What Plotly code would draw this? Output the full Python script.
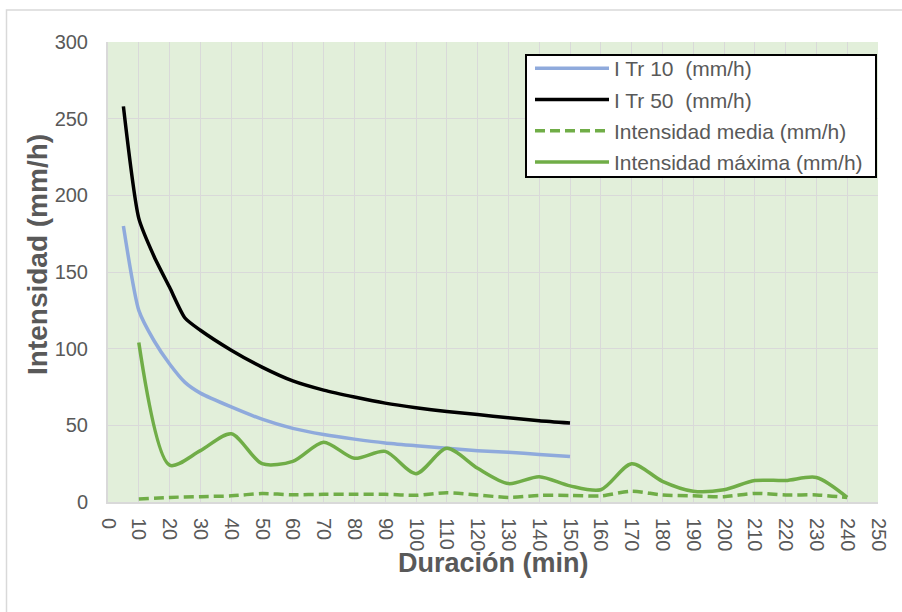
import plotly.graph_objects as go

# IDF curves (mm/h) vs duration (min)
dur_idf = [5, 10, 15, 20, 25, 30, 40, 50, 60, 70, 80, 90, 100, 110, 120, 130, 140, 150]
i_tr10 = [180, 125, 105, 90, 78, 71, 62, 54, 48, 44, 41, 38.5, 36.7, 35, 33.5, 32.5, 31, 29.7]
i_tr50 = [258, 185, 160, 140, 120, 112, 99, 88, 79, 73, 68.5, 64.5, 61.5, 59, 57, 55, 53, 51.5]

# Observed intensities
dur_obs = [10, 20, 30, 40, 50, 60, 70, 80, 90, 100, 110, 120, 130, 140, 150, 160,
           170, 180, 190, 200, 210, 220, 230, 240]
i_media = [2, 3, 3.5, 4, 5.5, 4.7, 5, 5, 5, 4.4, 6, 4.6, 3, 4.3, 4.3, 4,
           7, 4.6, 4, 3.5, 5.6, 4.6, 4.6, 3]
i_maxima = [104, 24, 33.5, 44.5, 25, 26.5, 39, 28.5, 33, 18.5, 35, 22, 12, 16.5, 10.5, 8,
            25, 13.5, 7, 8, 14, 14, 16, 3]

x_ticks = list(range(0, 251, 10))
y_ticks = list(range(0, 301, 50))

FONT = "Liberation Sans, Arial, sans-serif"
GRAY = "#595959"
GRID = "#d9d9d9"

fig = go.Figure()
fig.add_trace(go.Scatter(x=dur_idf, y=i_tr10, mode="lines", name="I Tr 10  (mm/h)",
                         line=dict(color="#8faadc", width=3.5, shape="spline", smoothing=0.6),
                         legendgroup="a"))
fig.add_trace(go.Scatter(x=dur_idf, y=i_tr50, mode="lines", name="I Tr 50  (mm/h)",
                         line=dict(color="#000000", width=3.5, shape="spline", smoothing=0.6),
                         legendgroup="b"))
fig.add_trace(go.Scatter(x=dur_obs, y=i_media, mode="lines", name="Intensidad media (mm/h)",
                         line=dict(color="#70ad47", width=3.5, dash="10px,5px", shape="spline", smoothing=0.8),
                         legendgroup="c"))
fig.add_trace(go.Scatter(x=dur_obs, y=i_maxima, mode="lines", name="Intensidad máxima (mm/h)",
                         line=dict(color="#70ad47", width=3.5, shape="spline", smoothing=0.8),
                         legendgroup="d"))

L, R, T, B = 108, 24, 42, 110
W, H = 902, 612
pw, ph = W - L - R, H - T - B


def px(xp):
    return (xp - L) / pw


def py(yp):
    return (T + ph - yp) / ph


# outer chart border (light gray)
fig.add_shape(type="rect", xref="paper", yref="paper",
              x0=px(6.5), x1=px(915), y0=py(625), y1=py(10),
              line=dict(color=GRID, width=1.5), fillcolor="rgba(0,0,0,0)", layer="below")
# legend box
fig.add_shape(type="rect", xref="paper", yref="paper",
              x0=px(526), x1=px(876), y0=py(177), y1=py(55),
              line=dict(color="black", width=2), fillcolor="white", layer="above")

fig.add_annotation(text="<b>Duración (min)</b>", xref="paper", yref="paper",
                   x=px(494), y=py(563), xanchor="center", yanchor="middle", showarrow=False,
                   font=dict(size=27, color=GRAY, family=FONT))
fig.add_annotation(text="<b>Intensidad (mm/h)</b>", xref="paper", yref="paper",
                   x=px(37), y=py(255), xanchor="center", yanchor="middle", showarrow=False,
                   textangle=-90, font=dict(size=28, color=GRAY, family=FONT))

fig.update_layout(
    width=W, height=H,
    margin=dict(l=L, r=R, t=T, b=B),
    paper_bgcolor="white",
    plot_bgcolor="#e2efda",
    font=dict(family=FONT, color=GRAY, size=20),
    legend=dict(x=px(530), y=py(48), xanchor="left", yanchor="top",
                bgcolor="rgba(0,0,0,0)", borderwidth=0,
                font=dict(size=21, color=GRAY, family=FONT),
                itemwidth=74, tracegroupgap=1),
    xaxis=dict(range=[0, 250], tickvals=x_ticks, ticktext=[str(v) for v in x_ticks],
               tickangle=90, showgrid=True, gridcolor=GRID, gridwidth=1,
               showline=True, linecolor=GRID, linewidth=2, zeroline=False,
               ticks="", ticklabelstandoff=10,
               tickfont=dict(size=20, color=GRAY)),
    yaxis=dict(range=[0, 300], tickvals=y_ticks, showgrid=True, gridcolor=GRID, gridwidth=1,
               showline=True, linecolor=GRID, linewidth=2, zeroline=False,
               ticks="", ticklabelstandoff=14,
               tickfont=dict(size=20, color=GRAY)),
)

fig.write_html("out.html")
